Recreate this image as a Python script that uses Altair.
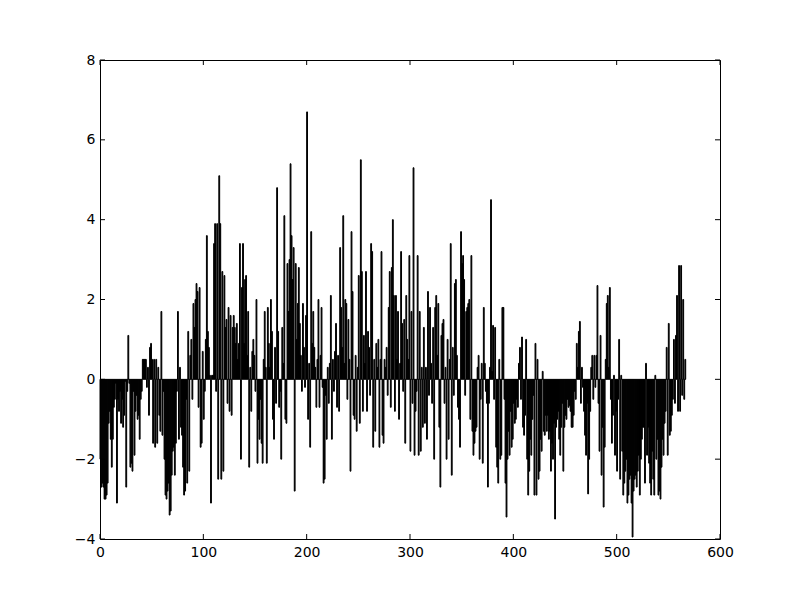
import altair as alt
import pandas as pd

# bar heights, index 0..566
seg_000 = [-2.0, -2.7, -2.6, -2.7, -3.0, -3.0, -2.9, -2.6, -1.1, -0.8,
           -1.5, -2.2, -1.5, -0.7, -0.5, -0.1, -3.1, -0.5, -0.8, -0.3,
           -1.1, -0.5, -1.2, -0.9, -0.05, -2.7, -0.3, 1.1, -0.1, -2.2,
           -2.1, -2.3, -0.3, -1.9, -0.8, -0.4, -1.0, -0.9, -1.5, -0.5,
           -0.3, 0.5, 0.5, 0.5, 0.5, -0.2, 0.3, -0.9, 0.8, 0.9,
           0.5, -1.6, 0.5, -1.7, 0.5, -1.6, 0.3, -0.9, -1.3, 1.7,
           -1.4, -0.3, -2.0, -2.9, -3.0, -2.8, -2.6, -3.4, -3.3, -2.4,
           -1.8, -1.7, -2.4, -1.6, -0.3, 1.7, -1.5, 0.3, -1.2, -1.4,
           -2.2, -2.9, -2.8, -0.5, -2.6, 1.2, -2.3, 0.6, 1.0, -0.5,
           1.9, 1.3, 2.0, 2.4, 2.2, -0.7, 2.3, -1.7, -1.6, 0.7]
seg_100 = [-1.0, -0.3, 1.0, 3.6, 1.2, 0.8, 0.1, -3.1, 0.1, 0.1,
           3.4, 3.9, -0.3, 3.9, -2.5, 5.1, 3.9, -2.5, 2.7, -2.3,
           2.6, 1.3, 1.5, -0.6, 1.8, -0.8, 1.6, -0.9, 1.3, 1.6,
           1.3, 0.9, 1.4, 0.5, 0.9, 3.4, -2.0, 2.3, 3.4, 0.9,
           2.5, 2.6, 0.6, 1.7, -2.2, 0.3, -0.8, 0.7, 1.0, 0.6,
           -0.3, 2.0, -2.1, -1.0, -1.5, -0.5, -1.6, -2.1, 0.5, 1.7,
           0.3, -2.1, 1.8, 0.9, 0.3, 2.0, 1.2, -1.0, -1.5, 0.8,
           -0.6, 4.8, 1.2, -0.7, -0.3, -2.0, 1.3, 0.4, 4.1, -1.0,
           -1.1, 2.9, 1.7, 3.0, 5.4, 3.6, 2.5, 3.3, -2.8, 2.9,
           1.0, 1.9, 2.8, 1.4, 0.6, -0.3, 1.9, 0.8, -0.2, 1.6]
seg_200 = [6.7, -1.0, 0.4, -1.7, 3.7, 0.9, 1.7, 0.8, 0.3, -0.7,
           0.5, 2.0, -0.7, 0.6, 1.8, -0.2, -2.6, -2.5, -0.4, -1.5,
           0.3, -0.6, 0.4, 2.1, -1.5, 0.5, -0.3, 0.7, 1.4, -0.7,
           0.6, -0.8, 3.3, 1.8, 0.8, 4.1, 0.4, 2.0, 1.9, -0.5,
           1.5, 0.5, -2.3, 3.7, 2.2, -0.9, -1.0, 0.6, -1.3, 0.3,
           2.6, -1.1, 5.5, 2.7, -0.8, 1.1, 0.4, 2.7, -0.8, 1.2,
           0.8, -0.4, 3.4, 3.2, -1.7, 0.5, -1.3, 0.9, 0.3, 1.0,
           -1.7, 0.5, 3.2, -1.4, -1.6, 0.5, 0.3, 0.8, -0.4, 1.8,
           2.7, -0.7, 2.8, 4.0, 2.1, -0.8, 2.1, 0.5, 1.7, -1.0,
           0.4, 3.2, 1.4, -0.3, 1.5, -1.6, 2.1, 1.0, 0.5, 3.1]
seg_300 = [-1.8, 1.7, -0.6, 5.3, -1.9, -0.8, -0.3, 3.1, -1.9, 1.7,
           -1.8, 0.3, -1.2, 1.3, -1.1, 0.3, -1.5, 2.2, -0.4, 1.8,
           0.4, -0.6, 1.3, -2.0, 1.8, 2.1, 0.6, 1.9, -1.2, -2.7,
           1.1, 1.4, 1.5, -0.6, 0.3, -2.0, 1.0, -1.5, 0.5, 3.4,
           -2.4, 0.8, -0.4, 2.4, 2.5, 0.6, -0.7, -1.0, -1.7, 3.7,
           2.9, 3.1, 2.5, -0.4, 1.7, 1.8, 1.9, 2.0, -1.0, 3.1,
           -1.3, -1.9, -1.6, -1.3, -1.2, 0.3, 0.6, -2.0, -0.5, 0.4,
           -2.1, 1.8, 0.4, -0.3, -0.6, -2.7, -0.6, 0.3, 4.5, 0.2,
           1.35, -0.5, 1.3, -1.7, -2.2, -2.6, 0.5, -2.0, -1.9, 1.8,
           1.8, -0.5, -2.6, -3.45, -2.0, -1.3, -1.9, -0.8, -1.7, -1.5]
seg_400 = [-0.6, -1.1, -1.0, -0.5, -0.7, 0.4, 0.8, -0.5, 1.06, -1.2,
           -1.4, -0.9, 1.0, -2.0, -2.9, -2.3, -1.5, -1.9, -1.0, -0.4,
           -2.9, 0.9, -2.9, 0.5, -2.5, -2.3, -1.5, -1.8, 0.2, -1.3,
           -1.4, -0.9, -1.3, -0.9, -1.5, -1.3, -2.3, -1.6, -2.0, -1.1,
           -3.5, -1.2, -1.0, -0.8, -1.5, -1.9, -1.2, -0.6, -2.3, -1.2,
           -0.9, -1.0, -0.5, -0.7, -0.65, -0.8, -1.2, -1.2, -0.9, -0.3,
           -0.5, 0.9, 0.3, 1.2, 1.45, -0.6, 0.3, -0.2, -0.8, -1.4,
           -1.9, -0.6, -2.87, -2.0, -0.8, 0.3, 0.6, -0.5, 0.6, -0.2,
           0.6, 2.35, -0.6, -1.8, 1.1, -2.4, -1.2, -3.2, -1.7, 0.5,
           1.9, 2.1, 0.3, 2.3, -0.5, -1.6, -0.9, 0.1, -1.9, -0.8]
seg_500 = [-2.3, -0.5, 1.0, -2.5, 0.1, -1.8, -2.9, -2.6, -2.3, -2.0,
           -3.1, -2.9, -2.5, -2.4, -3.1, -3.95, -2.8, -2.5, -2.4, -2.7,
           -2.3, -1.9, -2.9, -2.0, -1.5, -1.2, -1.2, -2.6, 0.4, -1.9,
           -1.2, -2.1, -2.6, -2.9, -1.8, -2.5, -2.9, 0.1, -2.0, -1.5,
           -2.9, -2.8, -3.0, -2.2, -1.5, -1.9, -1.1, -0.8, 0.8, -1.9,
           1.4, -1.4, -1.3, -0.9, -0.5, 1.0, -0.6, 1.1, 2.1, -0.8,
           2.85, -0.8, 2.85, -0.4, 2.0, -0.5, 0.5]

values = seg_000 + seg_100 + seg_200 + seg_300 + seg_400 + seg_500

x_ticks = [0, 100, 200, 300, 400, 500, 600]
y_ticks = [-4, -2, 0, 2, 4, 6, 8]
x_domain = [0, 600]
y_domain = [-4, 8]

W, H = 620, 479
TICK = 5

df = pd.DataFrame({"i": list(range(len(values))), "v": values})
xt = pd.DataFrame({"t": x_ticks})
yt = pd.DataFrame({"t": y_ticks})

xs = alt.Scale(domain=x_domain, nice=False, zero=False)
ys = alt.Scale(domain=y_domain, nice=False, zero=False)

minus_expr = "replace(datum.label, '-', '\u2212')"
x_axis = alt.Axis(values=x_ticks, title="", labelPadding=6, labelFlush=False)
y_axis = alt.Axis(values=y_ticks, title="", labelPadding=5, labelFlush=False,
                  labelExpr=minus_expr)

bars = (
    alt.Chart(df)
    .transform_calculate(x0="datum.i", x1="datum.i + 0.8", base="0")
    .mark_bar(color="black", stroke="black", strokeWidth=1)
    .encode(
        x=alt.X("x0:Q", scale=xs, axis=x_axis),
        x2="x1:Q",
        y=alt.Y("v:Q", scale=ys, axis=y_axis),
        y2="base:Q",
    )
)

xtick_bottom = alt.Chart(xt).mark_rule(color="black", strokeWidth=1).encode(
    x=alt.X("t:Q", scale=xs, axis=x_axis), y=alt.value(H), y2=alt.value(H - TICK)
)
xtick_top = alt.Chart(xt).mark_rule(color="black", strokeWidth=1).encode(
    x=alt.X("t:Q", scale=xs, axis=x_axis), y=alt.value(0), y2=alt.value(TICK)
)
ytick_left = alt.Chart(yt).mark_rule(color="black", strokeWidth=1).encode(
    y=alt.Y("t:Q", scale=ys, axis=y_axis), x=alt.value(0), x2=alt.value(TICK)
)
ytick_right = alt.Chart(yt).mark_rule(color="black", strokeWidth=1).encode(
    y=alt.Y("t:Q", scale=ys, axis=y_axis), x=alt.value(W), x2=alt.value(W - TICK)
)

chart = (
    alt.layer(bars, xtick_bottom, xtick_top, ytick_left, ytick_right)
    .properties(
        width=W,
        height=H,
        autosize=alt.AutoSizeParams(type="none"),
        padding={"left": 92, "top": 52, "right": 72, "bottom": 53},
        background="white",
    )
    .configure_view(stroke="black", strokeWidth=1)
    .configure_axis(
        domain=False,
        ticks=False,
        grid=False,
        labelFont="DejaVu Sans",
        labelFontSize=14,
        labelColor="black",
    )
)

chart.save("out.html", embed_options={"renderer": "svg", "actions": False})
